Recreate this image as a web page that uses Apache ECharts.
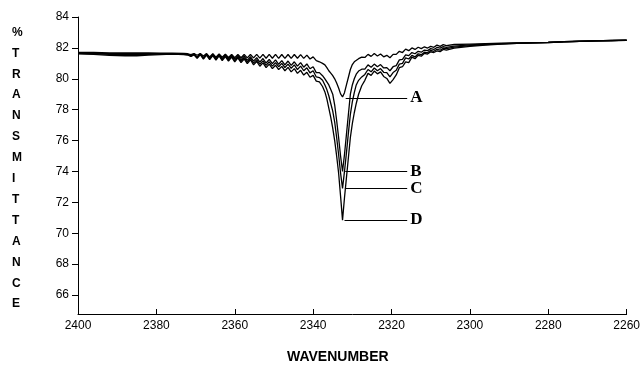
<!DOCTYPE html>
<html>
<head>
<meta charset="utf-8">
<script src="https://cdn.jsdelivr.net/npm/echarts@6/dist/echarts.min.js"></script>
<style>
  html, body { margin: 0; padding: 0; background: #fff; }
  #chart { width: 643px; height: 382px; }
</style>
</head>
<body>
<div id="chart"></div>
<script>
// wavenumber (cm-1) sample positions shared by the four spectra
const wavenumbers = [
  2400, 2396, 2392, 2388, 2385, 2382, 2379, 2376, 2373,
  2372.0, 2371.2, 2370.4, 2369.6, 2368.8, 2368.0, 2367.2, 2366.4, 2365.6, 2364.8,
  2364.0, 2363.2, 2362.4, 2361.6, 2360.8, 2360.0, 2359.2, 2358.4, 2357.6, 2356.8,
  2356.0, 2355.2, 2354.4, 2353.6, 2352.8, 2352.0, 2351.2, 2350.4, 2349.6, 2348.8,
  2348.0, 2347.2, 2346.4, 2345.6, 2344.8, 2344.0, 2343.2, 2342.4, 2341.6, 2340.8,
  2340.0, 2339.2, 2338.4,
  2337.6, 2337.0, 2336.5, 2336.0, 2335.5, 2335.0, 2334.5, 2334.0, 2333.5, 2333.0,
  2332.5, 2332.0, 2331.5, 2331.0, 2330.5, 2330.0, 2329.5, 2329.0, 2328.4,
  2327.6, 2326.8, 2326.0, 2325.2, 2324.4, 2323.6, 2322.8, 2322.0, 2321.2, 2320.4,
  2319.6, 2318.8, 2318.0, 2317.2, 2316.4, 2315.6, 2314.8, 2314.0, 2313.2, 2312.4,
  2311.6, 2310.8, 2310.0, 2309.2, 2308.4, 2307.6, 2306.8, 2306.0,
  2304, 2300, 2296, 2292, 2288, 2284, 2280, 2276, 2272, 2268, 2264, 2260
]

// % transmittance, spectrum A
const specA = [
  81.70, 81.70, 81.68, 81.68, 81.68, 81.68, 81.66, 81.66, 81.64,
  81.62, 81.56, 81.63, 81.52, 81.64, 81.48, 81.63, 81.42, 81.62, 81.40,
  81.60, 81.39, 81.59, 81.38, 81.58, 81.37, 81.57, 81.36, 81.57, 81.35,
  81.57, 81.35, 81.58, 81.34, 81.58, 81.33, 81.58, 81.33, 81.58, 81.32,
  81.57, 81.32, 81.57, 81.32, 81.57, 81.33, 81.56, 81.32, 81.53, 81.28,
  81.42, 81.18, 81.10,
  81.00, 80.90, 80.72, 80.52, 80.36, 80.20, 80.00, 79.72, 79.40, 79.02,
  78.82, 79.10, 79.60, 80.10, 80.60, 80.92, 81.10, 81.22, 81.30,
  81.40, 81.38, 81.58, 81.45, 81.63, 81.47, 81.60, 81.42, 81.52, 81.36,
  81.58, 81.58, 81.78, 81.70, 81.92, 81.82, 82.00, 81.90, 82.04, 81.95,
  82.07, 81.99, 82.10, 82.04, 82.18, 82.10, 82.21, 82.15,
  82.22, 82.25, 82.28, 82.30, 82.32, 82.34, 82.36, 82.40, 82.43, 82.46, 82.48, 82.50
]

// spectrum B
const specB = [
  81.66, 81.65, 81.63, 81.62, 81.62, 81.63, 81.63, 81.62, 81.60,
  81.60, 81.50, 81.62, 81.40, 81.62, 81.37, 81.61, 81.34, 81.60, 81.33,
  81.58, 81.31, 81.56, 81.29, 81.54, 81.27, 81.51, 81.23, 81.47, 81.19,
  81.43, 81.14, 81.37, 81.08, 81.31, 81.02, 81.26, 80.98, 81.22, 80.94,
  81.18, 80.90, 81.15, 80.87, 81.10, 80.82, 81.05, 80.75, 80.96, 80.65,
  80.78, 80.40, 80.40,
  80.20, 80.00, 79.80, 79.60, 79.30, 79.00, 78.30, 77.30, 76.20, 75.00,
  74.00, 75.10, 76.40, 77.70, 79.00, 79.60, 80.00, 80.30, 80.50,
  80.62, 80.62, 80.90, 80.75, 80.95, 80.78, 80.92, 80.70, 80.72, 80.52,
  80.78, 80.85, 81.22, 81.25, 81.55, 81.50, 81.70, 81.62, 81.78, 81.72,
  81.86, 81.82, 81.95, 81.90, 82.03, 81.98, 82.08, 82.04,
  82.12, 82.20, 82.25, 82.28, 82.31, 82.33, 82.36, 82.40, 82.43, 82.46, 82.48, 82.50
]

// spectrum C
const specC = [
  81.64, 81.62, 81.58, 81.56, 81.56, 81.58, 81.60, 81.61, 81.58,
  81.57, 81.47, 81.58, 81.36, 81.59, 81.32, 81.57, 81.29, 81.55, 81.27,
  81.53, 81.24, 81.50, 81.21, 81.46, 81.18, 81.42, 81.13, 81.37, 81.08,
  81.33, 81.01, 81.24, 80.94, 81.16, 80.87, 81.10, 80.82, 81.05, 80.78,
  81.00, 80.73, 80.95, 80.68, 80.90, 80.60, 80.82, 80.52, 80.71, 80.38,
  80.52, 80.12, 80.08,
  79.90, 79.60, 79.30, 78.90, 78.40, 77.90, 77.20, 76.20, 75.10, 73.90,
  72.90, 74.00, 75.20, 76.50, 77.70, 78.50, 79.10, 79.60, 79.90,
  80.12, 80.28, 80.60, 80.45, 80.70, 80.52, 80.66, 80.42, 80.40, 80.12,
  80.40, 80.55, 80.95, 81.00, 81.35, 81.28, 81.52, 81.42, 81.62, 81.56,
  81.72, 81.68, 81.84, 81.78, 81.90, 81.85, 81.98, 81.95,
  82.05, 82.15, 82.22, 82.26, 82.30, 82.33, 82.35, 82.39, 82.42, 82.45, 82.47, 82.49
]

// spectrum D
const specD = [
  81.62, 81.58, 81.52, 81.49, 81.49, 81.53, 81.57, 81.59, 81.56,
  81.54, 81.44, 81.55, 81.32, 81.56, 81.28, 81.53, 81.24, 81.50, 81.21,
  81.48, 81.18, 81.44, 81.14, 81.40, 81.10, 81.35, 81.05, 81.28, 80.98,
  81.23, 80.90, 81.12, 80.81, 81.03, 80.72, 80.95, 80.66, 80.88, 80.59,
  80.80, 80.52, 80.74, 80.45, 80.66, 80.35, 80.55, 80.24, 80.42, 80.10,
  80.22, 79.85, 79.80,
  79.50, 79.15, 78.70, 78.10, 77.50, 76.80, 76.00, 75.00, 73.90, 72.40,
  70.85, 72.30, 73.60, 74.90, 76.20, 77.10, 77.80, 78.40, 79.00,
  79.55, 79.90, 80.35, 80.22, 80.50, 80.32, 80.45, 80.15, 80.02, 79.70,
  79.95, 80.25, 80.72, 80.78, 81.10, 81.05, 81.40, 81.30, 81.52, 81.46,
  81.65, 81.60, 81.75, 81.70, 81.80, 81.76, 81.90, 81.86,
  81.98, 82.10, 82.18, 82.24, 82.29, 82.32, 82.35, 82.39, 82.42, 82.45, 82.47, 82.49
]

const yTicks = [66, 68, 70, 72, 74, 76, 78, 80, 82, 84]

// curve labels and their leader lines (level = minimum of each curve)
const curveNames = ['A', 'B', 'C', 'D']
const leaderLevels = [78.75, 74.0, 72.9, 70.85]
const leaderFrom = [2331.7, 2331.8, 2331.9, 2332.0]
const leaderTo = 2316

const spectra = [specA, specB, specC, specD]
const yTitle = '%TRANSMITTANCE'.split('').join('\n')

const chart = echarts.init(document.getElementById('chart'))

const series = spectra.map((spec, i) => ({
  name: curveNames[i],
  type: 'line',
  showSymbol: false,
  symbol: 'none',
  lineStyle: { color: '#000', width: 1.3 },
  data: wavenumbers.map((w, j) => [w, spec[j]]),
  markLine: {
    silent: true,
    symbol: 'none',
    lineStyle: { color: '#000', width: 1, type: 'solid' },
    label: {
      show: true,
      position: 'end',
      distance: 3,
      formatter: curveNames[i],
      color: '#000',
      fontFamily: "'Liberation Serif', 'DejaVu Serif', serif",
      fontWeight: 'bold',
      fontSize: 17
    },
    data: [[
      { coord: [leaderFrom[i], leaderLevels[i]] },
      { coord: [leaderTo, leaderLevels[i]] }
    ]]
  }
}))

chart.setOption({
  animation: false,
  backgroundColor: '#fff',
  textStyle: { fontFamily: "'Liberation Sans', Arial, sans-serif" },
  grid: { left: 78, right: 15, top: 17, bottom: 68, containLabel: false },
  xAxis: {
    type: 'value',
    inverse: true,
    min: 2260,
    max: 2400,
    interval: 20,
    axisLine: { lineStyle: { color: '#000', width: 1 } },
    axisTick: { inside: true, length: 5, lineStyle: { color: '#000' } },
    axisLabel: { color: '#000', fontSize: 12, margin: 6, formatter: v => String(v) },
    splitLine: { show: false }
  },
  yAxis: {
    type: 'value',
    min: 64.77,
    max: 84,
    axisLine: { show: true, lineStyle: { color: '#000', width: 1 } },
    axisTick: { show: true, length: 6, customValues: yTicks, lineStyle: { color: '#000' } },
    axisLabel: { color: '#000', fontSize: 12, margin: 9, customValues: yTicks },
    splitLine: { show: false }
  },
  graphic: [
    {
      type: 'text',
      left: 12,
      top: 22,
      style: {
        text: yTitle,
        fill: '#000',
        font: "bold 12px 'Liberation Sans', Arial, sans-serif",
        lineHeight: 20.9,
        align: 'center'
      }
    },
    {
      type: 'text',
      left: 287,
      top: 350,
      style: {
        text: 'WAVENUMBER',
        fill: '#000',
        font: "bold 14px 'Liberation Sans', Arial, sans-serif"
      }
    }
  ],
  series: series
})
</script>
</body>
</html>
